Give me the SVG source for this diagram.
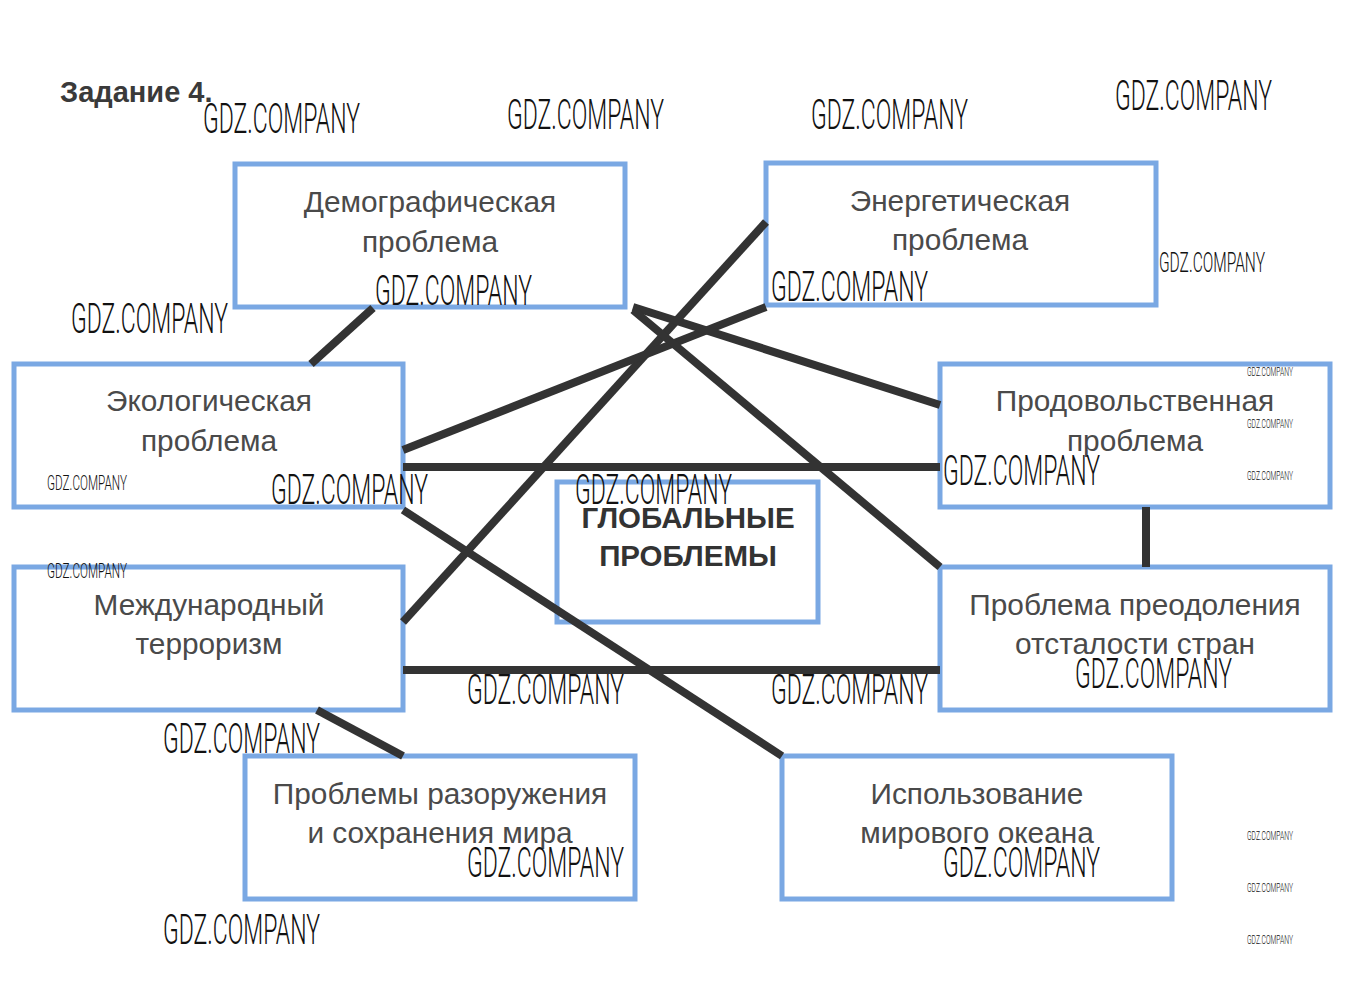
<svg xmlns="http://www.w3.org/2000/svg" width="1353" height="1000" viewBox="0 0 1353 1000">
<style>
.box{fill:#fff;stroke:#7aa8e3;stroke-width:5}
.lbl{font-family:"Liberation Sans",Arial,sans-serif;font-size:29.8px;fill:#4a4a4a;text-anchor:middle}
.big{font-family:"Liberation Sans",Arial,sans-serif;font-size:29.5px;font-weight:bold;fill:#333;text-anchor:middle}
.con{stroke:#333;stroke-width:8;fill:none}
.wm{font-family:Roboto,"Liberation Sans",sans-serif;font-weight:300;fill:#111}
</style>
<rect width="1353" height="1000" fill="#fff"/>
<text x="60" y="102" font-family="Liberation Sans, Arial, sans-serif" font-size="29" font-weight="bold" fill="#3a3a3a">Задание 4.</text>
<g id="n-demo"><rect class="box" x="235" y="164" width="390" height="143"/><text class="lbl" x="430" y="212">Демографическая</text><text class="lbl" x="430" y="252">проблема</text></g>
<g id="n-energy"><rect class="box" x="766" y="163" width="390" height="142"/><text class="lbl" x="960" y="211">Энергетическая</text><text class="lbl" x="960" y="250">проблема</text></g>
<g id="n-eco"><rect class="box" x="14" y="364" width="389" height="143"/><text class="lbl" x="209" y="411">Экологическая</text><text class="lbl" x="209" y="451">проблема</text></g>
<g id="n-food"><rect class="box" x="940" y="364" width="390" height="143"/><text class="lbl" x="1135" y="411">Продовольственная</text><text class="lbl" x="1135" y="451">проблема</text></g>
<g id="n-global"><rect class="box" x="557" y="482" width="261" height="140"/><text class="big" x="688" y="528">ГЛОБАЛЬНЫЕ</text><text class="big" x="688" y="566">ПРОБЛЕМЫ</text></g>
<g id="n-terror"><rect class="box" x="14" y="567" width="389" height="143"/><text class="lbl" x="209" y="615">Международный</text><text class="lbl" x="209" y="654">терроризм</text></g>
<g id="n-backward"><rect class="box" x="940" y="567" width="390" height="143"/><text class="lbl" x="1135" y="615">Проблема преодоления</text><text class="lbl" x="1135" y="654">отсталости стран</text></g>
<g id="n-disarm"><rect class="box" x="245" y="756" width="390" height="143"/><text class="lbl" x="440" y="804">Проблемы разоружения</text><text class="lbl" x="440" y="843">и сохранения мира</text></g>
<g id="n-ocean"><rect class="box" x="782" y="756" width="390" height="143"/><text class="lbl" x="977" y="804">Использование</text><text class="lbl" x="977" y="843">мирового океана</text></g>
<g id="connectors">
<line class="con" x1="373" y1="308" x2="311" y2="364"/>
<line class="con" x1="766" y1="222" x2="403" y2="622"/>
<line class="con" x1="766" y1="307" x2="403" y2="450"/>
<line class="con" x1="633" y1="307" x2="940" y2="405"/>
<line class="con" x1="633" y1="310" x2="940" y2="567"/>
<line class="con" x1="403" y1="467" x2="940" y2="467"/>
<line class="con" x1="403" y1="510" x2="782" y2="756"/>
<line class="con" x1="1146" y1="507" x2="1146" y2="567"/>
<line class="con" x1="403" y1="670" x2="940" y2="670"/>
<line class="con" x1="317" y1="710" x2="403" y2="756"/>
</g>
<g id="watermarks">
<text class="wm" x="203" y="133" font-size="42" textLength="157" lengthAdjust="spacingAndGlyphs">GDZ.COMPANY</text>
<text class="wm" x="507" y="129" font-size="42" textLength="157" lengthAdjust="spacingAndGlyphs">GDZ.COMPANY</text>
<text class="wm" x="811" y="129" font-size="42" textLength="157" lengthAdjust="spacingAndGlyphs">GDZ.COMPANY</text>
<text class="wm" x="1115" y="110" font-size="42" textLength="157" lengthAdjust="spacingAndGlyphs">GDZ.COMPANY</text>
<text class="wm" x="1159" y="272" font-size="28" textLength="106" lengthAdjust="spacingAndGlyphs">GDZ.COMPANY</text>
<text class="wm" x="71" y="333" font-size="42" textLength="157" lengthAdjust="spacingAndGlyphs">GDZ.COMPANY</text>
<text class="wm" x="375" y="305" font-size="42" textLength="157" lengthAdjust="spacingAndGlyphs">GDZ.COMPANY</text>
<text class="wm" x="771" y="301" font-size="42" textLength="157" lengthAdjust="spacingAndGlyphs">GDZ.COMPANY</text>
<text class="wm" x="271" y="504" font-size="42" textLength="157" lengthAdjust="spacingAndGlyphs">GDZ.COMPANY</text>
<text class="wm" x="575" y="504" font-size="42" textLength="157" lengthAdjust="spacingAndGlyphs">GDZ.COMPANY</text>
<text class="wm" x="943" y="485" font-size="42" textLength="157" lengthAdjust="spacingAndGlyphs">GDZ.COMPANY</text>
<text class="wm" x="47" y="490" font-size="21" textLength="80" lengthAdjust="spacingAndGlyphs">GDZ.COMPANY</text>
<text class="wm" x="47" y="578" font-size="21" textLength="80" lengthAdjust="spacingAndGlyphs">GDZ.COMPANY</text>
<text class="wm" x="1247" y="376" font-size="12" textLength="46" lengthAdjust="spacingAndGlyphs" fill="#555">GDZ.COMPANY</text>
<text class="wm" x="1247" y="428" font-size="12" textLength="46" lengthAdjust="spacingAndGlyphs" fill="#555">GDZ.COMPANY</text>
<text class="wm" x="1247" y="480" font-size="12" textLength="46" lengthAdjust="spacingAndGlyphs" fill="#555">GDZ.COMPANY</text>
<text class="wm" x="1247" y="840" font-size="12" textLength="46" lengthAdjust="spacingAndGlyphs" fill="#555">GDZ.COMPANY</text>
<text class="wm" x="1247" y="892" font-size="12" textLength="46" lengthAdjust="spacingAndGlyphs" fill="#555">GDZ.COMPANY</text>
<text class="wm" x="1247" y="944" font-size="12" textLength="46" lengthAdjust="spacingAndGlyphs" fill="#555">GDZ.COMPANY</text>
<text class="wm" x="163" y="753" font-size="42" textLength="157" lengthAdjust="spacingAndGlyphs">GDZ.COMPANY</text>
<text class="wm" x="467" y="704" font-size="42" textLength="157" lengthAdjust="spacingAndGlyphs">GDZ.COMPANY</text>
<text class="wm" x="771" y="704" font-size="42" textLength="157" lengthAdjust="spacingAndGlyphs">GDZ.COMPANY</text>
<text class="wm" x="1075" y="688" font-size="42" textLength="157" lengthAdjust="spacingAndGlyphs">GDZ.COMPANY</text>
<text class="wm" x="467" y="877" font-size="42" textLength="157" lengthAdjust="spacingAndGlyphs">GDZ.COMPANY</text>
<text class="wm" x="943" y="877" font-size="42" textLength="157" lengthAdjust="spacingAndGlyphs">GDZ.COMPANY</text>
<text class="wm" x="163" y="944" font-size="42" textLength="157" lengthAdjust="spacingAndGlyphs">GDZ.COMPANY</text>
</g>
</svg>
